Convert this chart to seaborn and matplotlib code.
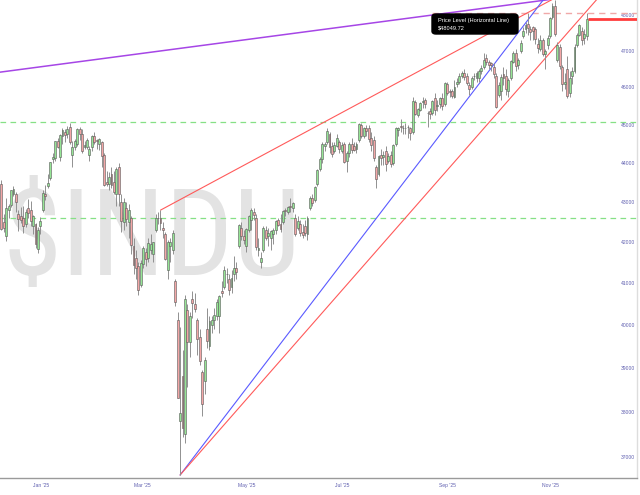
import numpy as np
import pandas as pd
import matplotlib
matplotlib.use("Agg")
import matplotlib.pyplot as plt
from matplotlib.ticker import NullLocator
from matplotlib.patches import FancyBboxPatch
from matplotlib import font_manager
import seaborn as sns

# ---------------- data (daily candles, $INDU) ----------------
dates = pd.to_datetime([
    "2024-12-18", "2024-12-19", "2024-12-20", "2024-12-23", "2024-12-24", "2024-12-26", "2024-12-27", "2024-12-30", "2024-12-31",
    "2025-01-02", "2025-01-03", "2025-01-06", "2025-01-07", "2025-01-08", "2025-01-10", "2025-01-13", "2025-01-14", "2025-01-15",
    "2025-01-16", "2025-01-17", "2025-01-21", "2025-01-22", "2025-01-23", "2025-01-24", "2025-01-27", "2025-01-28", "2025-01-29",
    "2025-01-30", "2025-01-31", "2025-02-03", "2025-02-04", "2025-02-05", "2025-02-06", "2025-02-07", "2025-02-10", "2025-02-11",
    "2025-02-12", "2025-02-13", "2025-02-14", "2025-02-18", "2025-02-19", "2025-02-20", "2025-02-21", "2025-02-24", "2025-02-25",
    "2025-02-26", "2025-02-27", "2025-02-28", "2025-03-03", "2025-03-04", "2025-03-05", "2025-03-06", "2025-03-07", "2025-03-10",
    "2025-03-11", "2025-03-12", "2025-03-13", "2025-03-14", "2025-03-17", "2025-03-18", "2025-03-19", "2025-03-20", "2025-03-21",
    "2025-03-24", "2025-03-25", "2025-03-26", "2025-03-27", "2025-03-28", "2025-03-31", "2025-04-01", "2025-04-02", "2025-04-03",
    "2025-04-04", "2025-04-07", "2025-04-08", "2025-04-09", "2025-04-10", "2025-04-11", "2025-04-14", "2025-04-15", "2025-04-16",
    "2025-04-17", "2025-04-21", "2025-04-22", "2025-04-23", "2025-04-24", "2025-04-25", "2025-04-28", "2025-04-29", "2025-04-30",
    "2025-05-01", "2025-05-02", "2025-05-05", "2025-05-06", "2025-05-07", "2025-05-08", "2025-05-09", "2025-05-12", "2025-05-13",
    "2025-05-14", "2025-05-15", "2025-05-16", "2025-05-19", "2025-05-20", "2025-05-21", "2025-05-22", "2025-05-23", "2025-05-27",
    "2025-05-28", "2025-05-29", "2025-05-30", "2025-06-02", "2025-06-03", "2025-06-04", "2025-06-05", "2025-06-06", "2025-06-09",
    "2025-06-10", "2025-06-11", "2025-06-12", "2025-06-13", "2025-06-16", "2025-06-17", "2025-06-18", "2025-06-20", "2025-06-23",
    "2025-06-24", "2025-06-25", "2025-06-26", "2025-06-27", "2025-06-30", "2025-07-01", "2025-07-02", "2025-07-03", "2025-07-07",
    "2025-07-08", "2025-07-09", "2025-07-10", "2025-07-11", "2025-07-14", "2025-07-15", "2025-07-16", "2025-07-17", "2025-07-18",
    "2025-07-21", "2025-07-22", "2025-07-23", "2025-07-24", "2025-07-25", "2025-07-28", "2025-07-29", "2025-07-30", "2025-07-31",
    "2025-08-01", "2025-08-04", "2025-08-05", "2025-08-06", "2025-08-07", "2025-08-08", "2025-08-11", "2025-08-12", "2025-08-13",
    "2025-08-14", "2025-08-15", "2025-08-18", "2025-08-19", "2025-08-20", "2025-08-21", "2025-08-22", "2025-08-25", "2025-08-26",
    "2025-08-27", "2025-08-28", "2025-08-29", "2025-09-02", "2025-09-03", "2025-09-04", "2025-09-05", "2025-09-08", "2025-09-09",
    "2025-09-10", "2025-09-11", "2025-09-12", "2025-09-15", "2025-09-16", "2025-09-17", "2025-09-18", "2025-09-19", "2025-09-22",
    "2025-09-23", "2025-09-24", "2025-09-25", "2025-09-26", "2025-09-29", "2025-09-30", "2025-10-01", "2025-10-02", "2025-10-03",
    "2025-10-06", "2025-10-07", "2025-10-08", "2025-10-09", "2025-10-10", "2025-10-13", "2025-10-14", "2025-10-15", "2025-10-16",
    "2025-10-17", "2025-10-20", "2025-10-21", "2025-10-22", "2025-10-23", "2025-10-24", "2025-10-27", "2025-10-28", "2025-10-29",
    "2025-10-30", "2025-10-31", "2025-11-03", "2025-11-04", "2025-11-05", "2025-11-06", "2025-11-07", "2025-11-10", "2025-11-11",
    "2025-11-12", "2025-11-13", "2025-11-14", "2025-11-17", "2025-11-18", "2025-11-19", "2025-11-20", "2025-11-21", "2025-11-24",
    "2025-11-25", "2025-11-26", "2025-11-28", "2025-12-01", "2025-12-02", "2025-12-03",
])

opens = [
    43450, 42500, 42150, 42800, 42910, 43200, 43200, 42700, 42640,
    42600, 42450, 42850, 42800, 42400, 42450, 41830, 42400, 42800,
    43200, 43400, 43600, 44100, 44120, 44560, 44150, 44700, 44800,
    44750, 44950, 44200, 44400, 44500, 44880, 44750, 44400, 44400,
    44200, 44400, 44700, 44600, 44500, 44550, 44200, 43500, 43450,
    43700, 43500, 43200, 43900, 43000, 42500, 42850, 42500, 42600,
    41900, 41600, 41400, 40950, 41450, 41750, 41600, 41800, 41700,
    42300, 42600, 42600, 42350, 42200, 41300, 41900, 41800, 41050,
    40100, 37800, 38800, 37500, 40350, 39600, 40600, 40500, 40100,
    39700, 38900, 38700, 39900, 39500, 40000, 40100, 40200, 40200,
    40800, 40900, 41200, 41100, 40900, 41200, 41350, 41900, 42350,
    42150, 41900, 42300, 42550, 42750, 42600, 41800, 41500, 41800,
    42300, 42150, 42100, 42200, 42300, 42550, 42450, 42500, 42800,
    42750, 42900, 42850, 42600, 42350, 42450, 42250, 42400, 42200,
    42850, 43100, 43050, 43450, 43850, 44100, 44450, 44550, 44750,
    44450, 44300, 44450, 44550, 44300, 44500, 44050, 44250, 44500,
    44450, 44350, 44600, 45000, 44700, 44900, 44900, 44650, 44600,
    43900, 43700, 44200, 44150, 44300, 44050, 44200, 44000, 44500,
    44850, 44950, 44900, 44900, 44950, 44900, 44800, 45600, 45250,
    45400, 45600, 45650, 45300, 45350, 45300, 45700, 45500, 45550,
    45700, 45550, 46100, 45900, 45900, 45750, 46100, 46150, 46300,
    46400, 46300, 46050, 46000, 46300, 46250, 46250, 46450, 46550,
    46800, 46700, 46650, 46550, 46300, 45800, 45900, 46350, 46300,
    45900, 46250, 46700, 46950, 46600, 47000, 47400, 47600, 47750,
    47600, 47650, 47600, 47200, 47050, 47300, 46900, 47150, 47400,
    47950, 48250, 46750, 47100, 46550, 46100, 46500, 45850, 46300,
    46450, 47150, 47450, 47550, 47350, 47400,
]

highs = [
    43550, 42700, 43100, 42950, 43300, 43400, 43250, 42800, 42860,
    42900, 42810, 43070, 43030, 42670, 42470, 42360, 42630, 43290,
    43440, 43700, 44030, 44260, 44580, 44660, 44750, 44900, 44880,
    44970, 45054, 44560, 44620, 44900, 44930, 44890, 44560, 44650,
    44450, 44730, 44800, 44620, 44650, 44560, 44250, 43800, 43750,
    43900, 43800, 43880, 44000, 43200, 43100, 43000, 42950, 42650,
    42100, 41800, 41500, 41550, 41900, 41850, 42100, 42200, 42000,
    42700, 42750, 42790, 42500, 42250, 42050, 42100, 42300, 41100,
    40300, 39950, 39400, 40700, 40500, 40300, 40800, 40750, 40150,
    39900, 38950, 39250, 40400, 40200, 40200, 40400, 40600, 40700,
    41050, 41400, 41350, 41200, 41300, 41650, 41500, 42450, 42500,
    42300, 42350, 42680, 42850, 42850, 42700, 42100, 41750, 42400,
    42400, 42350, 42300, 42350, 42550, 42600, 42700, 42800, 42850,
    42900, 43100, 43000, 42700, 42650, 42550, 42450, 42550, 42650,
    43150, 43200, 43400, 43850, 44150, 44550, 44550, 44900, 44800,
    44550, 44550, 44750, 44600, 44550, 44550, 44300, 44550, 44650,
    44550, 44550, 45050, 45050, 44950, 45000, 45000, 44800, 44700,
    43950, 44200, 44350, 44300, 44450, 44250, 44300, 44500, 44950,
    44950, 45150, 45000, 45050, 45000, 44950, 45750, 45650, 45450,
    45600, 45750, 45700, 45350, 45450, 45650, 45850, 45650, 45750,
    45850, 46150, 46150, 45950, 45950, 46200, 46250, 46400, 46450,
    46500, 46400, 46150, 46300, 46400, 46450, 46500, 46600, 46950,
    46900, 46750, 46700, 46650, 46400, 46150, 46350, 46550, 46500,
    46250, 46750, 47000, 47050, 46800, 47300, 47650, 47800, 48050,
    47700, 47700, 47650, 47350, 47450, 47350, 47050, 47450, 47950,
    48350, 48430, 47250, 47200, 46600, 46400, 46850, 46450, 46550,
    47200, 47500, 47750, 47650, 47600, 48050,
]

lows = [
    42290, 42250, 42030, 42590, 42880, 43140, 42750, 42280, 42470,
    42210, 42380, 42590, 42400, 42200, 41840, 41730, 42200, 42750,
    43050, 43350, 43550, 44000, 44050, 44380, 44050, 44500, 44550,
    44650, 44480, 43880, 44320, 44450, 44600, 44250, 44350, 44350,
    44050, 44300, 44480, 44350, 44330, 43900, 43400, 43400, 43300,
    43350, 43200, 42900, 42900, 42250, 42300, 42400, 42100, 41700,
    41200, 41100, 40700, 40900, 41350, 41400, 41500, 41700, 41500,
    42250, 42450, 42300, 42100, 41550, 41100, 41500, 41700, 40450,
    38300, 36611, 37450, 37300, 38550, 39250, 40150, 40300, 39300,
    39050, 37900, 38400, 39450, 39400, 39800, 39900, 40100, 39800,
    40650, 40850, 41000, 40700, 40750, 41050, 41100, 41850, 42050,
    41950, 41750, 42250, 42300, 42550, 41800, 41650, 41350, 41750,
    42050, 41900, 41800, 41950, 42200, 42400, 42250, 42450, 42650,
    42700, 42750, 42750, 42150, 42300, 42150, 42100, 42150, 42050,
    42800, 42900, 43000, 43400, 43800, 44000, 44300, 44500, 44250,
    44150, 44250, 44400, 44250, 44250, 44000, 43750, 44150, 44250,
    44300, 44250, 44550, 44650, 44650, 44700, 44550, 44300, 44050,
    43350, 43650, 43950, 43950, 43800, 44000, 43900, 43950, 44450,
    44700, 44800, 44750, 44750, 44650, 44600, 44750, 45250, 45200,
    45350, 45450, 45450, 44950, 45150, 45250, 45250, 45350, 45450,
    45400, 45500, 45800, 45750, 45700, 45700, 46000, 46100, 46250,
    46200, 46050, 45800, 45950, 46200, 46150, 46150, 46350, 46500,
    46600, 46500, 46450, 46250, 45450, 45750, 45650, 46050, 45800,
    45750, 46200, 46650, 46450, 46500, 46950, 47350, 47500, 47450,
    47300, 47300, 47200, 46950, 47000, 46850, 46500, 47050, 47350,
    47900, 47400, 46700, 46500, 45900, 45950, 45700, 45750, 46100,
    46400, 47100, 47400, 47150, 47200, 47300,
]

closes = [
    42330, 42340, 42840, 42906, 43297, 43325, 42992, 42573, 42544,
    42392, 42732, 42706, 42528, 42635, 41938, 42297, 42518, 43221,
    43153, 43488, 44025, 44157, 44565, 44424, 44714, 44850, 44714,
    44882, 44545, 44422, 44556, 44873, 44747, 44303, 44470, 44593,
    44368, 44711, 44546, 44556, 44628, 44176, 43428, 43461, 43621,
    43433, 43239, 43841, 43191, 42521, 43006, 42579, 42802, 41912,
    41433, 41350, 40813, 41488, 41842, 41582, 41965, 41953, 41985,
    42583, 42588, 42455, 42300, 41584, 42002, 41990, 42226, 40546,
    38315, 37966, 37646, 40609, 39594, 40213, 40525, 40368, 39669,
    39142, 38170, 39187, 39607, 40093, 40114, 40228, 40528, 40669,
    40753, 41317, 41219, 40829, 41114, 41368, 41249, 42410, 42140,
    42051, 42323, 42655, 42792, 42677, 41860, 41859, 41603, 42343,
    42098, 42216, 42270, 42305, 42520, 42427, 42319, 42763, 42762,
    42867, 42865, 42968, 42198, 42515, 42216, 42172, 42207, 42582,
    43089, 42982, 43386, 43819, 44095, 44495, 44484, 44829, 44406,
    44241, 44458, 44651, 44371, 44460, 44023, 44254, 44484, 44342,
    44323, 44502, 45010, 44694, 44902, 44838, 44633, 44461, 44131,
    43589, 44174, 44112, 44193, 43969, 44176, 43975, 44459, 44922,
    44911, 44946, 44912, 44922, 44938, 44786, 45632, 45282, 45418,
    45565, 45637, 45545, 45296, 45271, 45621, 45401, 45515, 45711,
    45490, 46108, 45834, 45883, 45758, 46018, 46142, 46315, 46381,
    46292, 46121, 45947, 46247, 46316, 46398, 46441, 46519, 46758,
    46695, 46603, 46602, 46358, 45480, 46068, 46270, 46253, 45952,
    46191, 46707, 46925, 46591, 46735, 47207, 47545, 47706, 47632,
    47523, 47563, 47337, 47085, 47311, 46912, 46987, 47368, 47928,
    48254, 47457, 47147, 46590, 46092, 46139, 45752, 46245, 46448,
    47112, 47427, 47716, 47289, 47474, 47882,
]

ytick_values = [37000, 38000, 39000, 40000, 41000, 42000, 43000, 44000, 45000, 46000, 47000, 48000]
xtick_labels = ["Jan '25", "Mar '25", "May '25", "Jul '25", "Sep '25", "Nov '25"]
xtick_bars = [16.3, 57.6, 100.0, 139.0, 182.0, 224.0]

support_levels = [45070, 42590]          # green dashed horizontal lines
price_level = 48049.72                   # annotated horizontal line
price_level_start_bar = 176

# trend lines: (bar index, price) anchor pairs
purple_anchor = ([0.0, 222.4], [46416, 48426])
red_upper_anchor = ([65, 224.5], [highs[65], 48426])
blue_anchor = ([73, 221.2], [lows[73], 48426])
red_lower_anchor = ([73, 242.9], [lows[73], 48426])

watermark = "$INDU"

# ---------------- build frame ----------------
df = pd.DataFrame({"date": dates, "open": opens, "high": highs, "low": lows, "close": closes})
df["bar"] = np.arange(len(df))
df["up"] = df["close"] >= df["open"]

sns.set_theme(style="white")
plt.rcParams["font.family"] = ["Liberation Sans", "DejaVu Sans"]

fig = plt.figure(figsize=(6.4, 4.95), dpi=100)
ax = fig.add_axes([0.0, 17 / 495, 637 / 640, 478 / 495])
ax.set_yscale("log")
X_LO, X_HI = -0.5, 259.5
ax.set_xlim(X_LO, X_HI)
ax.set_ylim(36547, 48426)


def log_line(anchor, x_start, x_end):
    (x1, x2), (p1, p2) = anchor
    lp1, lp2 = np.log(p1), np.log(p2)
    f = lambda x: float(np.exp(lp1 + (lp2 - lp1) * (x - x1) / (x2 - x1)))
    return [x_start, x_end], [f(x_start), f(x_end)]


# watermark: pick a narrow face when one is installed
wm_family = "Liberation Sans"
wm_size = 88
for fam, size in [("Liberation Sans Narrow", 88), ("Roboto Condensed", 82),
                  ("DejaVu Sans Condensed", 76), ("Open Sans Condensed", 82)]:
    try:
        font_manager.findfont(font_manager.FontProperties(family=fam), fallback_to_default=False)
        wm_family, wm_size = fam, size
        break
    except Exception:
        continue
wm = ax.text(0.004, 0.425, watermark, transform=ax.transAxes, fontsize=wm_size,
             family=wm_family, color="#e3e3e3", ha="left", va="baseline", zorder=0)
fig.canvas.draw()
bb = wm.get_window_extent()
target_w = 306.0
scale = float(np.clip(target_w / bb.width, 0.85, 1.05))
if scale < 1:
    scale = 0.5 + 0.5 * scale
wm.set_fontsize(wm_size * scale)

# horizontal levels
for lvl in support_levels:
    ax.axhline(lvl, color="#86e086", lw=0.9, ls=(0, (4.5, 3.5)), zorder=1)
ax.plot([price_level_start_bar, X_HI], [price_level, price_level], color="#f0a8a8",
        lw=1.0, ls=(0, (4.5, 3.5)), zorder=1)
ax.plot([len(df) - 0.5, X_HI], [closes[-1], closes[-1]], color="#ff3c3c", lw=2.0,
        solid_capstyle="butt", zorder=6)

# trend lines
lines = [
    (log_line(purple_anchor, -2.0, 262.0), "#a646e6", 1.1),
    (log_line(red_upper_anchor, red_upper_anchor[0][0], 262.0), "#ff5a5a", 0.8),
    (log_line(blue_anchor, blue_anchor[0][0], 262.0), "#5a5aff", 0.8),
    (log_line(red_lower_anchor, red_lower_anchor[0][0], 262.0), "#ff5a5a", 0.8),
]
for (xs, ys), col, lw in lines:
    sns.lineplot(x=xs, y=ys, color=col, lw=lw, ax=ax, estimator=None, sort=False, zorder=2)

# candles
ax.vlines(df["bar"], df["low"], df["high"], color="#909090", lw=0.7, zorder=3)
body_lo = np.minimum(df["open"], df["close"])
body_hi = np.maximum(df["open"], df["close"])
body_h = np.maximum(body_hi - body_lo, 12)
colors = np.where(df["up"], "#95e595", "#f3a6a6")
ax.bar(df["bar"], body_h, bottom=body_lo, width=0.76, color=colors,
       edgecolor="#585858", linewidth=0.4, zorder=4)

# annotation box
box = FancyBboxPatch((432 / 637, 1 - 34 / 478), 86 / 637, 20 / 478,
                     boxstyle="round,pad=0,rounding_size=0.006", transform=ax.transAxes,
                     fc="black", ec="black", zorder=7)
ax.add_patch(box)
ax.text(438 / 637, 1 - 20.5 / 478, "Price Level (Horizontal Line)", transform=ax.transAxes,
        color="white", fontsize=4.1, ha="left", va="center", zorder=8)
ax.text(438 / 637, 1 - 28.5 / 478, "$48049.72", transform=ax.transAxes,
        color="white", fontsize=4.1, ha="left", va="center", zorder=8)

# axes styling
ax.yaxis.set_minor_locator(NullLocator())
ax.set_yticks(ytick_values)
ax.set_yticklabels([str(v) for v in ytick_values])
ax.yaxis.tick_right()
ax.tick_params(axis="y", length=0, pad=-1.5, labelsize=3.6, labelcolor="#5f5fb0")
for lbl in ax.get_yticklabels():
    lbl.set_horizontalalignment("right")
ax.set_xticks(xtick_bars)
ax.set_xticklabels(xtick_labels)
ax.tick_params(axis="x", length=0, pad=3.5, labelsize=3.6, labelcolor="#5f5fb0")
ax.set_xlabel("")
ax.set_ylabel("")
for side in ["left", "top"]:
    ax.spines[side].set_visible(False)
ax.spines["bottom"].set_color("#9a9a9a")
ax.spines["bottom"].set_linewidth(1.0)
ax.spines["right"].set_color("#dddddd")
ax.spines["right"].set_linewidth(1.0)
ax.grid(False)

fig.savefig("out.png", dpi=100)
